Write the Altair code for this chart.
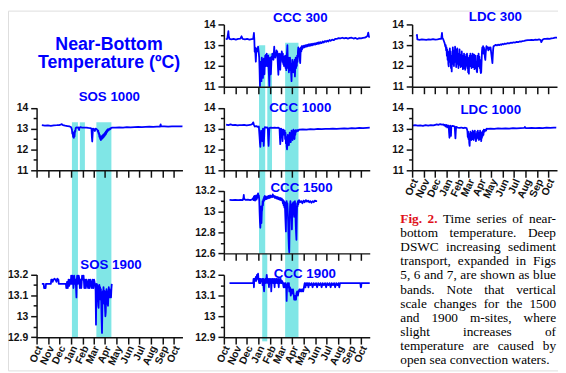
import altair as alt
import pandas as pd

# ------------------------------------------------------------------ data
MONTHS = ["Oct", "Nov", "Dec", "Jan", "Feb", "Mar", "Apr", "May", "Jun", "Jul", "Aug", "Sep", "Oct"]
MONTH_DAYS = [0, 31, 61, 92, 123, 151, 182, 212, 243, 273, 304, 335, 365]  # days since 1 Oct 2004
X_END_DAY = 388

SOS1000 = [(14,13.16),(22,13.14),(30,13.15),(38,13.13),(46,13.15),(54,13.16),(60,13.17),(64,13.19),(67,13.21),(70,13.17),(76,13.14),(82,13.12),(88,13.1),(92,13.06),(94,12.95),(95,12.75),(96,12.85),(97,12.6),(98,12.7),(99,12.55),(100,12.8),(101,12.62),(102,12.9),(103,12.85),(104,13.02),(106,13.06),(108,13.05),(111,13.06),(113,12.93),(114,13.05),(117,13.07),(120,13.05),(126,13.04),(132,13.05),(138,13.03),(143,13.02),(146,13.0),(147,12.6),(148,12.38),(149,12.7),(150,13.0),(153,12.98),(155,12.88),(157,13.0),(160,12.97),(162,12.92),(163,12.85),(164,12.9),(165,12.75),(166,12.8),(167,12.6),(168,12.7),(169,12.5),(170,12.62),(171,12.45),(172,12.6),(173,12.5),(174,12.65),(175,12.52),(176,12.68),(177,12.56),(178,12.72),(179,12.6),(180,12.75),(181,12.65),(182,12.8),(183,12.7),(184,12.85),(185,12.75),(186,12.9),(187,12.82),(188,12.95),(189,12.88),(190,12.97),(192,12.92),(194,13.0),(196,12.97),(198,13.03),(202,13.05),(210,13.04),(220,13.06),(230,13.05),(240,13.07),(250,13.06),(260,13.07),(270,13.08),(280,13.07),(290,13.08),(300,13.09),(310,13.08),(320,13.09),(328,13.09),(330,13.2),(331,13.1),(340,13.1),(350,13.09),(360,13.1),(370,13.1),(380,13.11),(388,13.1)]

SOS1900 = [(14,13.155),(19,13.155),(20,13.135),(24,13.135),(25,13.155),(38,13.155),(39,13.175),(42,13.175),(43,13.165),(45,13.175),(48,13.18),(50,13.175),(53,13.165),(55,13.18),(58,13.175),(59,13.155),(78,13.155),(79,13.135),(81,13.165),(83,13.135),(85,13.175),(87,13.145),(89,13.175),(91,13.155),(92,13.195),(94,13.155),(95,13.195),(97,13.175),(98,13.135),(100,13.195),(102,13.155),(104,13.175),(105,13.13),(106,13.09),(107,13.175),(108,13.195),(110,13.155),(112,13.195),(114,13.175),(115,13.135),(117,13.175),(119,13.135),(121,13.195),(123,13.175),(125,13.195),(127,13.135),(129,13.175),(131,13.135),(133,13.175),(135,13.155),(137,13.135),(139,13.175),(141,13.135),(143,13.175),(145,13.155),(147,13.135),(149,13.175),(151,13.135),(153,13.175),(155,13.155),(156,13.155),(157,13.12),(158,12.96),(159,13.12),(160,13.155),(161,13.1),(162,13.15),(163,13.09),(164,13.05),(165,13.04),(166,13.1),(167,13.15),(168,13.1),(169,13.14),(170,13.08),(171,13.13),(172,13.06),(173,12.98),(174,12.92),(175,13.04),(176,13.12),(177,13.08),(178,13.14),(179,13.1),(180,13.06),(181,13.12),(182,13.04),(183,13.0),(184,13.02),(185,13.1),(186,13.13),(187,13.08),(188,13.12),(189,13.06),(190,13.05),(191,13.1),(192,13.14),(193,13.1),(194,13.13),(195,13.09),(196,13.12),(197,13.1),(198,13.09),(199,13.13),(200,13.155)]

CCC300 = [(5,13.29),(9,13.3),(11,13.55),(12,13.68),(13,13.45),(15,13.3),(20,13.28),(26,13.3),(32,13.27),(38,13.3),(44,13.32),(47,13.43),(50,13.3),(56,13.28),(62,13.3),(68,13.27),(74,13.29),(78,13.3),(80,13.59),(81,13.3),(82,12.69),(83,12.9),(85,12.21),(86,12.6),(87,12.85),(89,12.7),(91,12.93),(93,12.6),(94,12.4),(95,11.8),(96,11.03),(97,12.0),(98,12.2),(99,11.6),(100,11.27),(101,12.4),(102,11.9),(103,12.3),(104,11.43),(105,12.1),(106,12.35),(107,11.8),(108,11.6),(109,12.2),(110,12.5),(111,12.0),(112,12.55),(113,12.1),(114,12.6),(115,12.0),(116,12.45),(117,12.2),(118,12.5),(119,11.9),(120,11.5),(121,11.03),(122,12.2),(123,12.4),(124,12.3),(125,11.6),(126,12.0),(127,12.45),(128,12.3),(129,12.6),(130,12.35),(131,12.55),(132,12.3),(133,12.65),(134,12.93),(135,12.5),(136,12.65),(137,12.4),(138,12.6),(139,12.5),(140,12.75),(141,12.55),(142,12.7),(143,12.3),(144,11.9),(145,11.58),(146,12.2),(147,12.6),(148,12.4),(149,12.1),(150,11.82),(151,12.3),(152,12.6),(153,12.45),(154,12.7),(155,12.5),(156,12.2),(157,12.6),(158,12.1),(159,12.45),(160,12.0),(161,12.4),(162,12.15),(163,12.5),(164,11.9),(165,12.3),(166,11.8),(167,12.4),(168,12.7),(169,13.0),(170,12.3),(171,11.9),(172,12.4),(173,11.7),(174,12.2),(175,11.9),(176,12.4),(177,11.8),(178,12.1),(179,11.6),(180,11.27),(181,12.0),(182,12.3),(183,11.8),(184,12.2),(185,11.7),(186,12.1),(187,11.9),(188,12.3),(189,11.5),(190,12.0),(191,12.4),(192,11.9),(193,12.3),(194,12.0),(195,12.5),(196,12.2),(197,12.7),(198,12.9),(199,12.6),(200,12.85),(201,12.5),(202,12.3),(203,12.14),(204,12.6),(205,12.9),(206,12.7),(207,12.95),(208,12.8),(209,12.95),(211,12.88),(213,12.98),(215,12.9),(217,13.0),(219,12.93),(221,13.02),(223,12.95),(225,13.04),(227,12.97),(229,13.05),(231,12.98),(233,13.06),(235,13.0),(237,13.08),(239,13.02),(241,13.08),(243,13.03),(245,13.1),(247,13.05),(249,13.12),(251,13.07),(253,13.14),(255,13.08),(257,13.15),(260,13.1),(263,13.18),(266,13.13),(269,13.2),(272,13.16),(275,13.22),(278,13.18),(281,13.25),(284,13.21),(288,13.27),(292,13.24),(296,13.3),(300,13.3),(305,13.34),(310,13.33),(315,13.36),(320,13.33),(325,13.35),(330,13.32),(335,13.35),(340,13.36),(345,13.32),(350,13.35),(355,13.3),(360,13.34),(365,13.33),(370,13.35),(375,13.36),(379,13.4),(382,13.45),(384,13.6),(386,13.4),(388,13.42)]

CCC1000 = [(6,13.19),(12,13.17),(18,13.2),(24,13.16),(30,13.18),(36,13.15),(42,13.17),(48,13.16),(54,13.18),(60,13.15),(66,13.17),(72,13.19),(76,13.22),(78,13.3),(80,13.18),(82,13.1),(86,13.12),(90,13.08),(93,13.1),(95,12.6),(96,12.3),(97,12.12),(98,12.5),(99,12.9),(100,12.87),(101,12.6),(102,12.4),(103,12.8),(104,13.0),(105,12.6),(106,12.17),(107,12.5),(108,12.95),(109,13.07),(112,13.05),(115,13.06),(117,13.0),(118,12.5),(119,12.17),(120,12.6),(121,13.02),(125,13.05),(130,13.03),(135,13.05),(140,13.03),(145,13.04),(148,13.0),(149,12.6),(150,12.25),(151,12.7),(152,13.0),(154,12.95),(155,12.7),(156,12.4),(157,12.8),(158,12.95),(160,12.9),(161,12.7),(162,12.9),(163,12.5),(164,12.8),(165,12.3),(166,12.6),(167,12.15),(168,12.0),(169,12.4),(170,12.7),(171,12.3),(172,12.6),(173,12.2),(174,12.5),(175,12.8),(176,12.4),(177,12.7),(178,12.35),(179,12.65),(180,12.9),(181,12.5),(182,12.8),(183,12.45),(184,12.75),(185,12.95),(186,12.6),(187,12.85),(188,12.5),(189,12.9),(190,12.7),(191,12.92),(193,12.85),(195,12.93),(197,12.88),(200,12.95),(210,12.96),(220,12.95),(230,12.97),(240,12.96),(250,12.98),(260,12.97),(270,12.99),(280,12.98),(290,13.0),(300,12.99),(310,13.0),(320,13.01),(330,13.0),(340,13.02),(350,13.01),(360,13.03),(370,13.02),(380,13.03),(388,13.04)]

CCC1500 = [(15,13.112),(22,13.11),(30,13.112),(38,13.11),(45,13.112),(50,13.11),(52,13.13),(53,13.16),(54,13.12),(58,13.112),(64,13.115),(70,13.11),(76,13.118),(78,13.13),(79,13.11),(80,13.145),(81,13.12),(82,13.15),(83,13.105),(84,13.14),(85,13.12),(86,13.155),(87,13.115),(88,13.15),(89,13.13),(90,13.16),(91,13.175),(92,13.14),(93,13.155),(94,13.12),(95,13.0),(96,12.9),(97,12.845),(98,12.95),(99,13.05),(100,12.89),(101,13.0),(102,13.02),(103,13.1),(104,13.06),(105,13.12),(106,13.1),(107,13.14),(108,13.11),(109,13.15),(110,13.12),(111,13.14),(113,13.12),(115,13.145),(117,13.125),(119,13.15),(121,13.13),(123,13.155),(125,13.135),(127,13.15),(129,13.14),(130,13.165),(132,13.14),(134,13.15),(136,13.13),(138,13.145),(140,13.125),(142,13.14),(144,13.12),(146,13.135),(148,13.115),(150,13.13),(152,13.11),(154,13.125),(156,13.1),(157,13.08),(158,13.11),(159,13.06),(160,13.1),(161,13.04),(162,13.09),(163,13.0),(164,12.9),(165,12.81),(166,13.05),(167,13.1),(168,13.03),(169,13.08),(170,13.0),(171,12.9),(172,12.75),(173,12.65),(174,12.61),(175,12.9),(176,13.05),(177,13.1),(178,13.02),(179,13.07),(180,12.95),(181,12.83),(182,13.0),(183,13.08),(184,13.04),(185,13.09),(186,13.0),(187,12.95),(188,13.06),(189,13.1),(190,13.05),(191,12.9),(192,12.8),(193,12.73),(194,12.95),(195,13.08),(196,13.05),(197,13.1),(198,13.07),(200,13.11),(203,13.09),(206,13.1),(209,13.08),(212,13.105),(215,13.09),(218,13.11),(221,13.095),(224,13.105),(227,13.09),(230,13.1),(233,13.085),(236,13.1),(239,13.09),(242,13.105),(245,13.1),(248,13.1)]

CCC1900 = [(15,13.16),(40,13.16),(60,13.16),(78,13.16),(79,13.18),(80,13.14),(81,13.18),(83,13.17),(85,13.19),(86,13.17),(88,13.2),(89,13.18),(91,13.205),(92,13.18),(94,13.16),(95,13.18),(97,13.16),(98,13.18),(100,13.17),(102,13.18),(103,13.15),(105,13.18),(106,13.14),(107,13.12),(108,13.16),(110,13.18),(112,13.16),(114,13.2),(115,13.18),(117,13.16),(118,13.18),(120,13.14),(121,13.18),(123,13.16),(125,13.18),(126,13.12),(127,13.16),(129,13.18),(131,13.16),(133,13.18),(135,13.14),(136,13.18),(138,13.16),(140,13.18),(142,13.16),(144,13.18),(146,13.14),(147,13.18),(149,13.16),(151,13.18),(153,13.16),(155,13.17),(157,13.16),(159,13.14),(160,13.16),(162,13.14),(164,13.16),(166,13.14),(167,13.074),(168,13.14),(170,13.16),(171,13.14),(173,13.16),(174,13.12),(176,13.14),(178,13.1),(180,13.13),(182,13.11),(184,13.13),(186,13.1),(187,13.08),(188,13.1),(189,13.09),(190,13.08),(191,13.1),(192,13.08),(193,13.11),(195,13.12),(197,13.1),(199,13.12),(201,13.13),(203,13.12),(205,13.13),(207,13.12),(209,13.13),(211,13.12),(213,13.14),(215,13.16),(217,13.14),(219,13.16),(221,13.15),(223,13.16),(225,13.14),(227,13.16),(230,13.15),(233,13.16),(236,13.14),(239,13.16),(242,13.15),(245,13.16),(248,13.14),(251,13.16),(254,13.15),(257,13.16),(260,13.14),(263,13.16),(266,13.15),(269,13.16),(272,13.14),(275,13.16),(278,13.15),(281,13.16),(284,13.14),(287,13.16),(290,13.15),(293,13.16),(296,13.14),(299,13.16),(302,13.15),(305,13.16),(307,13.14),(309,13.16),(330,13.16),(350,13.16),(363,13.16),(364,13.14),(365,13.14),(366,13.16),(388,13.16)]

LDC300 = [(12,13.45),(13,13.5),(14,13.28),(20,13.26),(26,13.28),(32,13.27),(38,13.26),(44,13.28),(50,13.27),(56,13.29),(62,13.27),(68,13.28),(74,13.3),(78,13.3),(80,13.59),(81,13.35),(83,13.3),(85,13.2),(87,13.1),(89,12.93),(90,13.0),(91,12.75),(92,12.9),(93,12.5),(94,12.8),(95,12.3),(96,12.7),(97,12.1),(98,11.98),(99,12.6),(100,12.2),(101,12.85),(102,12.3),(103,12.7),(104,11.9),(105,12.4),(106,11.74),(107,12.5),(108,12.1),(109,12.9),(110,12.3),(111,12.75),(112,12.0),(113,12.6),(114,12.2),(115,12.93),(116,12.35),(117,12.8),(118,11.95),(119,12.5),(120,12.1),(121,12.85),(122,12.2),(123,12.6),(124,11.9),(125,12.45),(126,12.05),(127,12.8),(128,12.15),(129,12.55),(130,11.95),(131,12.4),(132,12.0),(133,12.7),(134,12.2),(135,12.5),(136,11.85),(137,12.35),(138,11.9),(139,12.6),(140,12.1),(141,12.45),(142,11.82),(143,12.3),(144,12.0),(145,12.55),(146,12.2),(147,12.6),(148,11.9),(149,12.4),(150,11.7),(151,12.2),(152,11.63),(153,12.3),(154,12.5),(155,12.0),(156,12.6),(157,12.1),(158,12.45),(159,11.9),(160,12.5),(161,12.2),(162,12.6),(163,11.95),(164,12.4),(165,12.1),(166,12.55),(167,11.85),(168,12.3),(169,12.0),(170,12.5),(171,11.9),(172,12.2),(173,11.75),(174,11.7),(175,12.1),(176,12.5),(177,12.0),(178,12.6),(179,12.2),(180,12.45),(181,11.9),(182,12.3),(183,11.8),(184,11.66),(185,11.7),(186,12.2),(187,12.7),(188,12.9),(189,12.75),(190,12.95),(191,12.6),(192,12.9),(193,12.8),(194,12.6),(195,12.4),(196,12.29),(197,12.6),(198,12.8),(199,12.95),(200,12.85),(202,12.9),(204,12.75),(206,12.9),(208,12.8),(210,12.9),(212,12.6),(214,12.3),(215,12.14),(216,12.5),(217,12.8),(218,12.95),(221,12.98),(224,13.02),(227,12.99),(230,13.03),(233,13.0),(236,13.04),(239,13.02),(242,13.06),(245,13.04),(248,13.08),(252,13.07),(256,13.1),(260,13.09),(264,13.12),(268,13.11),(272,13.14),(276,13.13),(280,13.16),(284,13.15),(288,13.18),(292,13.17),(296,13.2),(300,13.21),(305,13.23),(310,13.25),(315,13.24),(320,13.26),(325,13.25),(330,13.27),(335,13.26),(340,13.28),(344,13.25),(346,13.15),(348,13.22),(350,13.27),(353,13.3),(358,13.3),(363,13.32),(368,13.31),(373,13.33),(378,13.34),(383,13.36),(388,13.37)]

LDC1000 = [(1,13.14),(8,13.16),(15,13.14),(22,13.15),(29,13.13),(36,13.16),(43,13.14),(50,13.17),(57,13.15),(62,13.18),(66,13.2),(70,13.18),(75,13.21),(80,13.19),(84,13.2),(86,13.15),(88,13.18),(90,13.1),(92,13.17),(94,13.05),(96,13.15),(98,13.12),(99,12.8),(100,12.56),(101,12.9),(102,13.14),(103,12.7),(104,12.65),(105,13.1),(108,13.13),(111,13.12),(114,13.1),(115,12.8),(116,12.53),(117,12.9),(118,13.08),(122,13.05),(127,13.03),(132,13.05),(137,13.02),(142,13.04),(146,13.02),(148,12.9),(149,12.6),(150,12.85),(151,12.5),(152,12.75),(153,12.3),(154,12.17),(155,12.6),(156,12.85),(157,12.5),(158,12.75),(159,12.45),(160,12.8),(161,12.55),(162,12.9),(163,12.5),(164,12.7),(165,12.45),(166,12.85),(167,12.6),(168,12.9),(169,12.55),(170,12.75),(171,12.4),(172,12.7),(173,12.5),(174,12.85),(175,12.6),(176,12.9),(177,12.55),(178,12.8),(179,12.45),(180,12.75),(181,12.6),(182,12.9),(183,12.5),(184,12.8),(185,12.4),(186,12.7),(187,12.55),(188,12.85),(189,12.65),(190,12.9),(191,12.7),(192,12.95),(194,12.85),(196,12.95),(198,12.9),(200,13.0),(202,12.98),(210,13.0),(220,12.99),(230,13.01),(240,13.0),(250,13.01),(260,13.0),(270,13.02),(280,13.01),(290,13.02),(300,13.03),(302,13.08),(304,13.02),(310,13.02),(320,13.03),(330,13.02),(340,13.03),(350,13.02),(360,13.04),(370,13.03),(380,13.05),(386,13.04)]

PANEL_NAMES = ["SOS 1000", "SOS 1900", "CCC 300", "CCC 1000", "CCC 1500", "CCC 1900", "LDC 300", "LDC 1000"]
PANEL_SERIES = [SOS1000, SOS1900, CCC300, CCC1000, CCC1500, CCC1900, LDC300, LDC1000]
PANEL_DOMAINS = [(11, 14), (12.9, 13.2), (11, 14), (11, 14), (12.6, 13.2), (12.9, 13.2), (11, 14), (11, 14)]
PANEL_MAJOR = [1, 0.1, 1, 1, 0.2, 0.1, 1, 1]
PANEL_MINOR = [0.5, 0.05, 0.5, 0.5, 0.1, 0.05, 0.5, 0.5]

# DSWC bands: start day, end day, (panel, temp) of top, (panel, temp) of bottom
BAND_START = [94, 115, 159, 93.5, 102, 115.5, 163]
BAND_END = [110, 128.5, 199, 110, 115.5, 128, 198.5]
BAND_TOP = [("SOS 1000", 13.3), ("SOS 1000", 13.3), ("SOS 1000", 13.3),
            ("CCC 300", 13.0), ("CCC 1500", 12.6), ("CCC 300", 12.6), ("CCC 300", 13.12)]
BAND_BOTTOM = [("SOS 1900", 12.9), ("SOS 1000", 11.0), ("SOS 1900", 12.9),
               ("CCC 1500", 12.6), ("CCC 1900", 12.88), ("CCC 1000", 11.0), ("CCC 1900", 12.9)]

TITLE_LINES = ["Near-Bottom", "Temperature (ºC)"]
CAPTION_LINES = [
    "Fig. 2. Time series of near-",
    "bottom temperature. Deep",
    "DSWC increasing sediment",
    "transport, expanded in Figs",
    "5, 6 and 7, are shown as blue",
    "bands. Note that vertical",
    "scale changes for the 1500",
    "and 1900 m-sites, where",
    "slight increases of",
    "temperature are caused by",
    "open sea convection waters.",
]
CAPTION_BOLD_WORDS = 2  # "Fig." and "2." on the first line

# ------------------------------------------------------------------ layout / style
OFF = 8
W, H = 558, 365
BLUE = "#0000ff"
BAND = "#80e6e6"
RED = "#e0101a"
SANS = "Liberation Sans"
SERIF = "Liberation Serif"

COL_X = {"SOS": (37, 185), "CCC": (227, 375), "LDC": (418, 565)}
PANEL_Y = {"SOS 1000": (170, 106.5), "SOS 1900": (339.3, 275.7), "CCC 300": (85.3, 22),
           "CCC 1000": (170, 106.5), "CCC 1500": (254.3, 190.7), "CCC 1900": (339.3, 276),
           "LDC 300": (85.3, 22), "LDC 1000": (170, 106.5)}
PANEL_XLABELS = {"SOS 1900", "CCC 1900", "LDC 1000"}
TITLE_POS = {"SOS 1000": (110.8, 100), "SOS 1900": (112.5, 270), "CCC 300": (304.5, 19.3),
             "CCC 1000": (304.5, 111.3), "CCC 1500": (305.8, 192.5), "CCC 1900": (309.2, 279),
             "LDC 300": (502.5, 19), "LDC 1000": (497.8, 112.5)}
MAIN_TITLE_POS = [(110.5, 47.5), (110.5, 66)]
CAP_L, CAP_R, CAP_Y0, CAP_DY, CAP_SIZE = 406, 564, 223, 14.4, 13.5

AX = dict(domainColor="#111111", tickColor="#111111", labelColor="#111111", domainWidth=1.5,
          tickWidth=1.5, labelFont=SANS, labelFontWeight="bold", grid=False, title=None, zindex=1)

month_expr = "[" + ",".join("'%s'" % m for m in MONTHS) + "][indexof([" + \
    ",".join(str(d) for d in MONTH_DAYS) + "], datum.value)]"


def col_of(name):
    return name.split()[0]


def xscale(col):
    x0, x1 = COL_X[col]
    return alt.Scale(domain=[0, X_END_DAY], range=[x0 - OFF, x1 - OFF], nice=False, zero=False)


def ypix(name, v):
    i = PANEL_NAMES.index(name)
    d0, d1 = PANEL_DOMAINS[i]
    yb, yt = PANEL_Y[name]
    return yb + (v - d0) / (d1 - d0) * (yt - yb) - OFF


def tick_values(d0, d1, step):
    n = int(round((d1 - d0) / step))
    return [round(d0 + k * step, 4) for k in range(n + 1)]


layers = []

# bands (behind everything)
for col in ["SOS", "CCC"]:
    rows = []
    for s, e, t, b in zip(BAND_START, BAND_END, BAND_TOP, BAND_BOTTOM):
        if col_of(t[0]) != col:
            continue
        rows.append({"start": s, "end": e, "top": ypix(*t), "bottom": ypix(*b)})
    layers.append(
        alt.Chart(pd.DataFrame(rows)).mark_rect(color=BAND, opacity=1).encode(
            x=alt.X("start:Q", scale=xscale(col), axis=None),
            x2="end:Q",
            y=alt.Y("top:Q", scale=None, axis=None),
            y2="bottom:Q",
        )
    )

# panels
for i, name in enumerate(PANEL_NAMES):
    col = col_of(name)
    d0, d1 = PANEL_DOMAINS[i]
    yb, yt = PANEL_Y[name]
    x0 = COL_X[col][0] - OFF
    ysc = alt.Scale(domain=[d0, d1], range=[yb - OFF, yt - OFF], nice=False, zero=False)
    major = tick_values(d0, d1, PANEL_MAJOR[i])
    allv = tick_values(d0, d1, PANEL_MINOR[i])
    minor = [v for v in allv if all(abs(v - m) > 1e-6 for m in major)]
    show = name in PANEL_XLABELS

    yaxis = alt.Axis(orient="left", offset=-x0, values=major, tickSize=6, labelPadding=3,
                     labelFontSize=10.5, labelOverlap=False,
                     labelExpr="toString(round(datum.value*10)/10)", **AX)
    xaxis = alt.Axis(orient="bottom", offset=(yb - OFF) - H, values=MONTH_DAYS, tickSize=7,
                     labels=show, labelExpr=month_expr, labelAngle=-65, labelAlign="right",
                     labelBaseline="middle", labelPadding=2, labelFontSize=10.5, labelOffset=3,
                     labelFlush=False, labelOverlap=False, **AX)
    df = pd.DataFrame(PANEL_SERIES[i], columns=["day", "temp"])
    layers.append(
        alt.Chart(df).mark_line(color=BLUE, strokeWidth=1.8, strokeJoin="round").encode(
            x=alt.X("day:Q", scale=xscale(col), axis=xaxis),
            y=alt.Y("temp:Q", scale=ysc, axis=yaxis),
        )
    )
    # minor ticks
    minor_axis = alt.Axis(orient="left", offset=-x0, values=minor, tickSize=3.5, labels=False,
                          domain=False, **AX)
    layers.append(
        alt.Chart(pd.DataFrame({"temp": [d0, d1]})).mark_point(opacity=0).encode(
            x=alt.value(x0),
            y=alt.Y("temp:Q", scale=ysc, axis=minor_axis),
        )
    )

# panel titles
tdf = pd.DataFrame([{"text": n, "x": TITLE_POS[n][0] - OFF, "y": TITLE_POS[n][1] - OFF} for n in PANEL_NAMES])
layers.append(
    alt.Chart(tdf).mark_text(font=SANS, fontWeight="bold", fontSize=13.5, color=BLUE,
                             align="center", baseline="alphabetic").encode(
        x=alt.X("x:Q", scale=None, axis=None), y=alt.Y("y:Q", scale=None, axis=None), text="text:N")
)
mdf = pd.DataFrame([{"text": t, "x": p[0] - OFF, "y": p[1] - OFF} for t, p in zip(TITLE_LINES, MAIN_TITLE_POS)])
layers.append(
    alt.Chart(mdf).mark_text(font=SANS, fontWeight="bold", fontSize=18, color=BLUE,
                             align="center", baseline="alphabetic").encode(
        x=alt.X("x:Q", scale=None, axis=None), y=alt.Y("y:Q", scale=None, axis=None), text="text:N")
)

# caption, justified word by word (Times metrics)
TNR = {" ": 250, ",": 250, ".": 250, "-": 333, "a": 444, "b": 500, "c": 444, "d": 500, "e": 444,
       "f": 333, "g": 500, "h": 500, "i": 278, "j": 278, "k": 500, "l": 278, "m": 778, "n": 500,
       "o": 500, "p": 500, "q": 500, "r": 333, "s": 389, "t": 278, "u": 500, "v": 500, "w": 722,
       "x": 500, "y": 500, "z": 444, "C": 667, "D": 722, "F": 556, "N": 722, "S": 556, "T": 611,
       "W": 944}
TNR_B = {"F": 611, "i": 278, "g": 500, ".": 250}


def word_w(w, bold):
    tab = TNR_B if bold else TNR
    return sum(tab.get(c, 500) for c in w) / 1000.0 * CAP_SIZE


left_rows, right_rows, bold_rows = [], [], []
for li, line in enumerate(CAPTION_LINES):
    words = line.split()
    bold = [li == 0 and k < CAPTION_BOLD_WORDS for k in range(len(words))]
    widths = [word_w(w, b) for w, b in zip(words, bold)]
    last = li == len(CAPTION_LINES) - 1
    gap = 250 / 1000.0 * CAP_SIZE if last else (CAP_R - CAP_L - sum(widths)) / (len(words) - 1)
    y = CAP_Y0 + li * CAP_DY - OFF
    x = CAP_L
    for k, w in enumerate(words):
        row = {"text": w, "x": x - OFF, "y": y}
        if bold[k]:
            bold_rows.append(row)
        elif not last and k == len(words) - 1:
            right_rows.append({"text": w, "x": CAP_R - OFF, "y": y})
        else:
            left_rows.append(row)
        x += widths[k] + gap

for rows, align, weight, color in [(left_rows, "left", "normal", "black"),
                                   (right_rows, "right", "normal", "black"),
                                   (bold_rows, "left", "bold", RED)]:
    layers.append(
        alt.Chart(pd.DataFrame(rows)).mark_text(font=SERIF, fontSize=CAP_SIZE, fontWeight=weight,
                                                color=color, align=align, baseline="alphabetic").encode(
            x=alt.X("x:Q", scale=None, axis=None), y=alt.Y("y:Q", scale=None, axis=None), text="text:N")
    )

chart = alt.layer(*layers).resolve_scale(x="independent", y="independent").properties(
    width=W, height=H, autosize=alt.AutoSizeParams(type="none"), padding=0
).configure_view(stroke=None).configure(background="white")

chart.save("out.html", embed_options={"renderer": "svg", "actions": False})
